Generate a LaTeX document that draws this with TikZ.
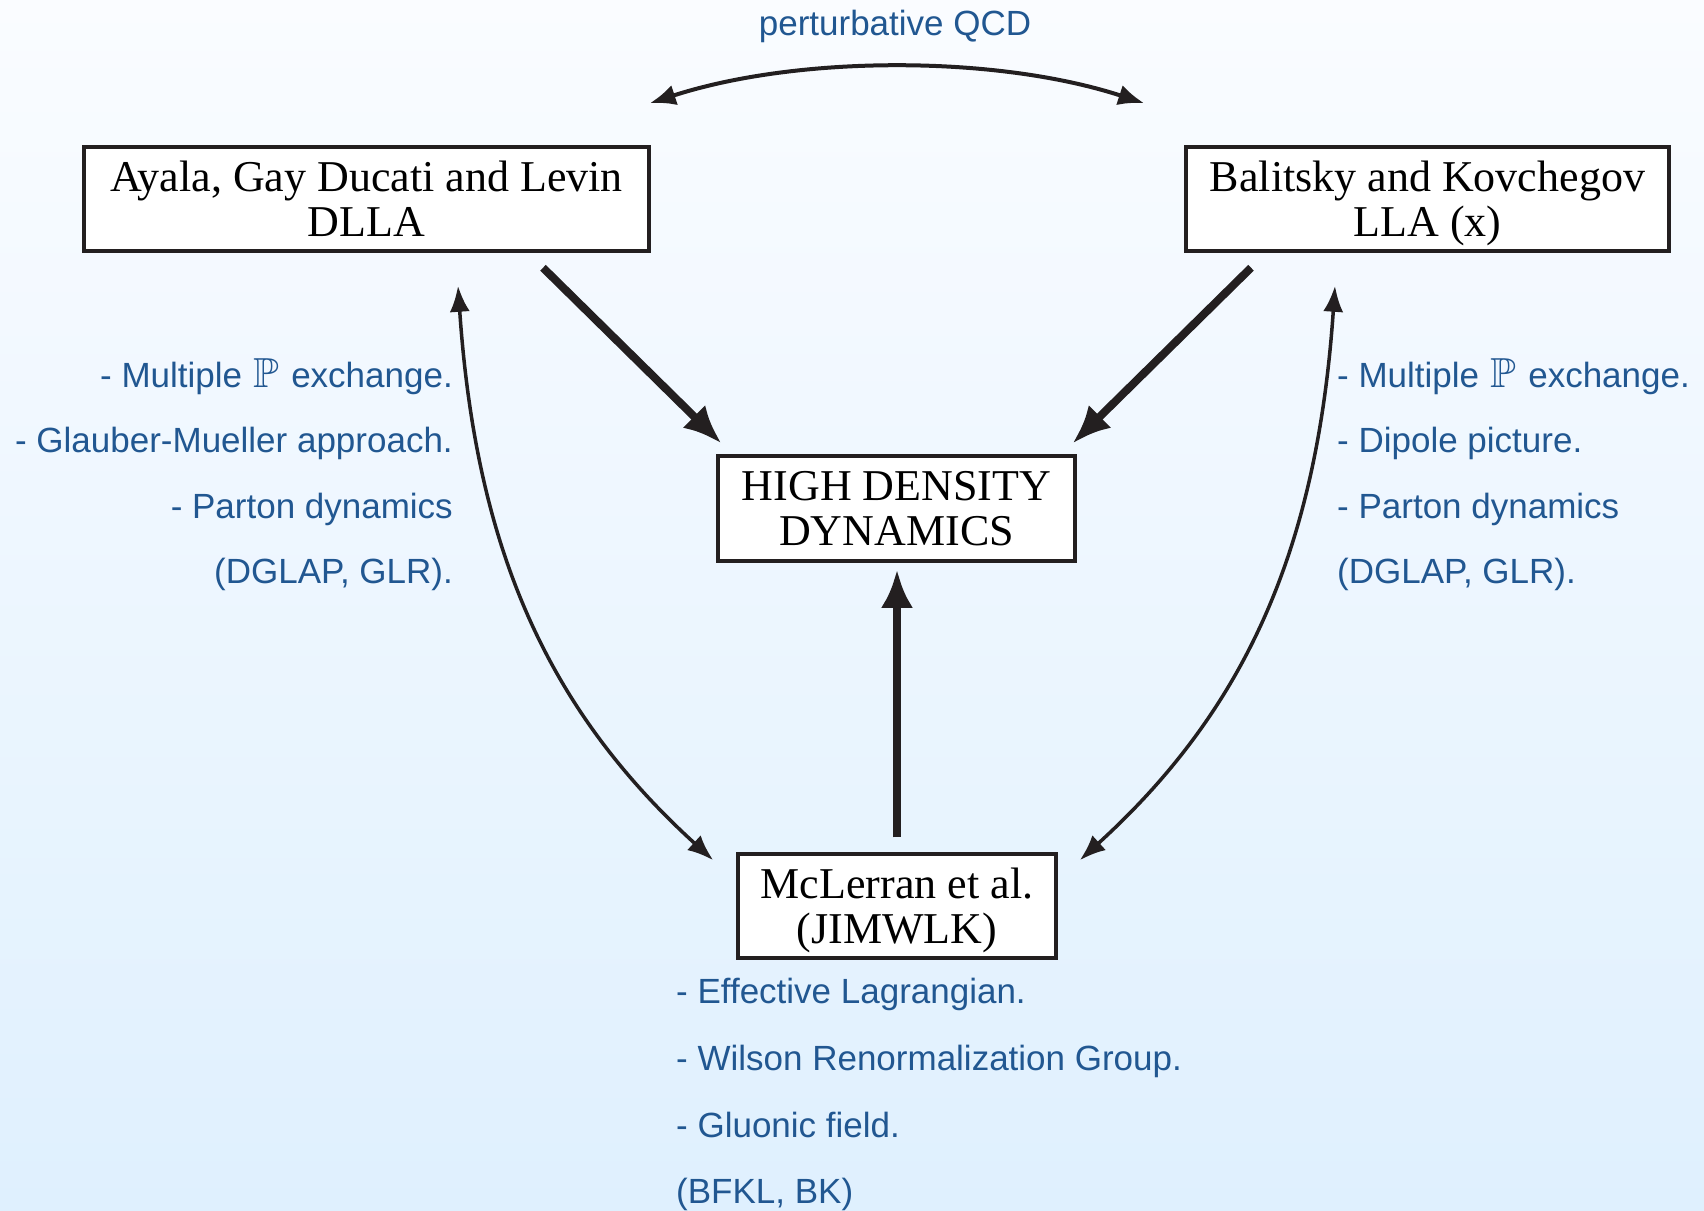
\documentclass[tikz,border=0pt]{standalone}
\usepackage{fontspec}
\usepackage{amssymb}
\setmainfont{Liberation Serif}
\newfontfamily\lblfont{Liberation Sans}
\usetikzlibrary{arrows.meta,calc}
\definecolor{lblblue}{RGB}{33,87,145}
\definecolor{bgtop}{RGB}{250,252,255}
\definecolor{bgbot}{RGB}{223,240,254}
\definecolor{ink}{RGB}{35,31,32}
\newcommand{\nodepth}[1]{\raisebox{0pt}[\height][0pt]{#1}}
\newcommand{\pomeron}{\hspace{2pt}\scalebox{1.2}{$\mathbb{P}$}\hspace{2pt}}
\begin{document}
\begin{tikzpicture}[x=1pt,y=-1pt,
  box/.style={draw=ink, line width=3.5pt, fill=white, align=center, inner sep=0pt,
    font=\fontsize{44}{45}\selectfont},
  lbl/.style={text=lblblue, inner sep=0pt, font=\lblfont\fontsize{35}{40}\selectfont},
  thinarrow/.style={draw=ink, line width=3.5pt,
    {Latex[length=26pt,width=20pt]}-{Latex[length=26pt,width=20pt]}},
  arcarrow/.style={draw=ink, line width=4pt,
    {Latex[length=26pt,width=21pt]}-{Latex[length=26pt,width=21pt]}},
  thickarrow/.style={draw=ink, line width=8pt, -{Latex[length=38pt,width=32pt]}},
]
\shade[top color=bgtop,bottom color=bgbot] (0pt,0pt) rectangle (1704pt,-1210pt);
\useasboundingbox (0pt,0pt) rectangle (1704pt,-1210pt);

% boxes
\node[box, minimum width=565pt, minimum height=104pt] (A) at (366.5,199)
  {Ayala, Gay Ducati and Levin\\DLLA};
\node[box, minimum width=483pt, minimum height=104pt] (B) at (1427.5,199)
  {Balitsky and Kovchegov\\\nodepth{LLA (x)}};
\node[box, minimum width=357pt, minimum height=105pt] (C) at (896.5,508.5)
  {HIGH DENSITY\\DYNAMICS};
\node[box, minimum width=318pt, minimum height=104pt] (D) at (897,906)
  {McLerran et al.\\\nodepth{(JIMWLK)}};

% top label
\node[lbl, anchor=base] (pq) at (895,35) {perturbative QCD};

% left list
\node[lbl, anchor=base east] (la) at (453,387) {- Multiple \pomeron{} exchange.};
\node[lbl, anchor=base east] (lb) at (453,452.5) {- Glauber-Mueller approach.};
\node[lbl, anchor=base east] (lc) at (453,518) {- Parton dynamics};
\node[lbl, anchor=base east] (ld) at (453,583.5) {(DGLAP, GLR).};

% right list
\node[lbl, anchor=base west] (ra) at (1337,387) {- Multiple \pomeron{} exchange.};
\node[lbl, anchor=base west] (rb) at (1337,452.5) {- Dipole picture.};
\node[lbl, anchor=base west] (rc) at (1337,518) {- Parton dynamics};
\node[lbl, anchor=base west] (rd) at (1337,583.5) {(DGLAP, GLR).};

% bottom list
\node[lbl, anchor=base west] (ba) at (676,1003) {- Effective Lagrangian.};
\node[lbl, anchor=base west] (bb) at (676,1070) {- Wilson Renormalization Group.};
\node[lbl, anchor=base west] (bc) at (676,1137) {- Gluonic field.};
\node[lbl, anchor=base west] (bd) at (676,1203) {(BFKL, BK)};

% connectors
\draw[arcarrow] ($(A.north east)+(-1,-42)$) .. controls (798,55) and (996,55) .. ($(B.north west)+(-40,-42)$);
\draw[thickarrow] ($(A.south)+(176.5,15)$) -- ($(C.north west)+(5,-11)$);
\draw[thickarrow] ($(B.south)+(-176.5,15)$) -- ($(C.north east)+(-4,-11)$);
\draw[thickarrow] ($(D.north)+(0,-15)$) -- ($(C.south)+(0.5,7)$);
\draw[thinarrow] ($(A.south)+(91.5,33)$) .. controls (476,550) and (548,710) .. ($(D.north west)+(-23,8)$);
\draw[thinarrow] ($(B.south)+(-92.5,33)$) .. controls (1317,550) and (1245,710) .. ($(D.north east)+(22,8)$);
\end{tikzpicture}
\end{document}
